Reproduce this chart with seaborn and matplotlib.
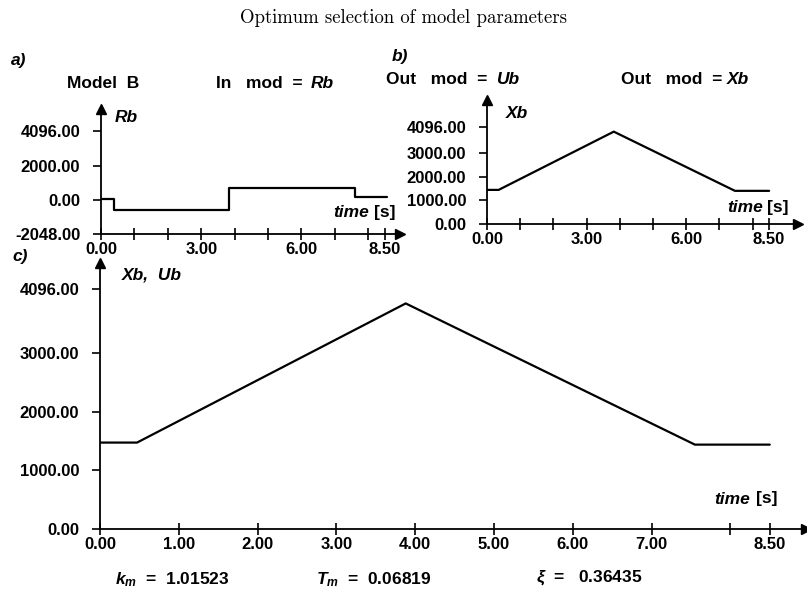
import matplotlib
matplotlib.use("Agg")
import matplotlib.pyplot as plt
import seaborn as sns
import pandas as pd

# ---- data -------------------------------------------------------------
# a) model input Rb (step signal)
t_rb = [0.0, 0.39, 3.84, 7.6, 8.55]
rb = [40, -620, 675, 170, 170]

# b) model state Xb
t_xb = [0.0, 0.35, 3.82, 7.47, 8.5]
xb = [1440, 1440, 3900, 1400, 1400]

# c) model output Xb, Ub
t_ub = [0.0, 0.47, 3.88, 7.55, 8.5]
ub = [1475, 1475, 3850, 1440, 1440]

# tick positions / labels
x_ticks = [0, 1, 2, 3, 4, 5, 6, 7, 8, 8.5]
x_labels_ab = ["0.00", "", "", "3.00", "", "", "6.00", "", "", "8.50"]
x_labels_c = ["0.00", "1.00", "2.00", "3.00", "4.00", "5.00", "6.00", "7.00", "", "8.50"]
y_ticks_a = [-2048, 0, 2000, 4096]
y_ticks_bc = [0, 1000, 2000, 3000, 4096]

params = {"k_m": "1.01523", "T_m": "0.06819", "xi": "0.36435"}

# ---- style ------------------------------------------------------------
sns.set_theme(style="white")
plt.rcParams["font.family"] = ["Liberation Sans", "DejaVu Sans"]
plt.rcParams["text.color"] = "black"
plt.rcParams["xtick.color"] = "black"
plt.rcParams["ytick.color"] = "black"
plt.rcParams["mathtext.fontset"] = "custom"
plt.rcParams["mathtext.it"] = "Liberation Sans:italic:bold"
plt.rcParams["mathtext.rm"] = "Liberation Sans:bold"

W, H = 807, 597
fig = plt.figure(figsize=(W / 100, H / 100), dpi=100)
fig.patch.set_facecolor("white")


def fpos(x, y):
    return x / W, 1 - y / H


def box(x0, y_bot, x1, y_top):
    return [x0 / W, 1 - y_bot / H, (x1 - x0) / W, (y_bot - y_top) / H]


TICK_FS = 12
LW = 1.6


def style_axes(ax, xlim, ylim, yticks, xlabels):
    ax.set_xlim(*xlim)
    ax.set_ylim(*ylim)
    for s in ("top", "right"):
        ax.spines[s].set_visible(False)
    for s in ("left", "bottom"):
        ax.spines[s].set_visible(True)
        ax.spines[s].set_color("black")
        ax.spines[s].set_linewidth(1.3)
    ax.set_facecolor("none")
    ax.set_xticks(x_ticks)
    ax.set_xticklabels(xlabels, fontsize=TICK_FS, fontweight="bold",
                       color="black")
    ax.set_yticks(yticks)
    ax.set_yticklabels([f"{v:.2f}" for v in yticks], fontsize=TICK_FS,
                       fontweight="bold", color="black")
    ax.tick_params(axis="x", direction="inout", length=9, width=1.2,
                   pad=1, colors="black", bottom=True)
    ax.tick_params(axis="y", direction="out", length=6, width=1.2,
                   pad=9, colors="black", left=True)
    ax.set_xlabel("")
    ax.set_ylabel("")
    ax.grid(False)
    # arrow heads on the axes
    ax.plot(1, 0, marker=">", color="black", ms=7, transform=ax.transAxes,
            clip_on=False)
    ax.plot(0, 1, marker="^", color="black", ms=7, transform=ax.transAxes,
            clip_on=False)


# ---- a) input Rb -------------------------------------------------------
ax_a = fig.add_axes(box(101, 234, 400, 109))
df_a = pd.DataFrame({"time": t_rb, "Rb": rb})
sns.lineplot(data=df_a, x="time", y="Rb", ax=ax_a, color="black",
             linewidth=LW, drawstyle="steps-post")
style_axes(ax_a, (0, 8.95), (-2048, 5408), y_ticks_a, x_labels_ab)

# ---- b) state Xb -------------------------------------------------------
ax_b = fig.add_axes(box(487, 224, 798, 100))
df_b = pd.DataFrame({"time": t_xb, "Xb": xb})
sns.lineplot(data=df_b, x="time", y="Xb", ax=ax_b, color="black",
             linewidth=LW)
style_axes(ax_b, (0, 9.37), (0, 5236), y_ticks_bc, x_labels_ab)

# ---- c) output Xb, Ub --------------------------------------------------
ax_c = fig.add_axes(box(100, 529, 806, 263))
df_c = pd.DataFrame({"time": t_ub, "Ub": ub})
sns.lineplot(data=df_c, x="time", y="Ub", ax=ax_c, color="black",
             linewidth=LW)
style_axes(ax_c, (0, 8.96), (0, 4540), y_ticks_bc, x_labels_c)

# ---- texts -------------------------------------------------------------
fig.text(*fpos(404, 18), "Optimum selection of model parameters",
         family="cmr10", fontsize=13.5, ha="center", va="center",
         color="black")

BIG = 12.5
bold = dict(fontsize=BIG, fontweight="bold", va="center", ha="left",
            color="black")
ital = dict(fontsize=BIG, fontweight="bold", fontstyle="italic",
            va="center", ha="left", color="black")

fig.text(*fpos(11, 60), "a)", **ital)
fig.text(*fpos(392, 57), "b)", **ital)
fig.text(*fpos(12, 256), "c)", **ital)

fig.text(*fpos(67, 83), "Model  B", **bold)
fig.text(*fpos(216, 83), "In   mod  =", **bold)
fig.text(*fpos(311, 83), "Rb", **ital)
fig.text(*fpos(386, 79), "Out   mod  =", **bold)
fig.text(*fpos(497, 79), "Ub", **ital)
fig.text(*fpos(621, 79), "Out   mod  =", **bold)
fig.text(*fpos(727, 79), "Xb", **ital)

fig.text(*fpos(115, 118), "Rb", **ital)
fig.text(*fpos(506, 113), "Xb", **ital)
fig.text(*fpos(122, 275), "Xb,  Ub", **ital)

for x_t, x_s, y in ((333, 374, 212), (727, 767, 207), (714, 756, 499)):
    fig.text(*fpos(x_t, y), "time", **ital)
    fig.text(*fpos(x_s, y), "[s]", **bold)

fig.text(*fpos(115, 580), r"$k_m$  =  " + params["k_m"], **bold)
fig.text(*fpos(316, 580), r"$T_m$  =  " + params["T_m"], **bold)
fig.text(*fpos(536, 578), r"$\xi$  =   " + params["xi"], **bold)

fig.savefig("out.png", dpi=100, facecolor="white")
